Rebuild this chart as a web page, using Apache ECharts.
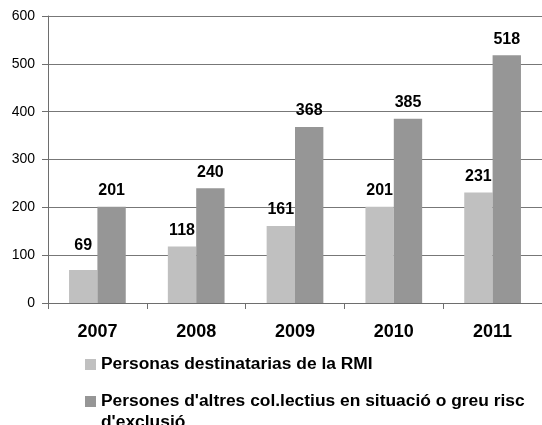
<!DOCTYPE html>
<html>
<head>
<meta charset="utf-8">
<script src="https://cdn.jsdelivr.net/npm/echarts@6/dist/echarts.min.js"></script>
<style>
html,body{margin:0;padding:0;background:#fff;}
#chart{width:542px;height:425px;}
</style>
</head>
<body>
<div id="chart"></div>
<script>
const categories = ['2007', '2008', '2009', '2010', '2011'];
const seriesNames = ['Personas destinatarias de la RMI', "Persones d'altres col.lectius en situació o greu risc d'exclusió"];
const rmiValues = [69, 118, 161, 201, 231];
const altresValues = [201, 240, 368, 385, 518];
const yMin = 0;
const yMax = 600;
const yStep = 100;

const FONT = 'Liberation Sans, Arial, sans-serif';
const chart = echarts.init(document.getElementById('chart'), null, {renderer: 'canvas'});

const labelBase = {show: true, position: 'top', distance: 8, fontFamily: FONT, fontSize: 16, fontWeight: 'bold', color: '#000'};

const rmiData = rmiValues.map((v, i) => i === 0 ? {value: v, label: {distance: 16}} : v);

const option = {
  backgroundColor: '#fff',
  animation: false,
  grid: {left: 48, top: 16, width: 498, height: 287, containLabel: false},
  xAxis: {
    type: 'category',
    data: categories,
    axisLine: {lineStyle: {color: '#6e6e6e', width: 1}},
    axisTick: {show: true, length: 6, inside: false, alignWithLabel: false, lineStyle: {color: '#6e6e6e'}},
    axisLabel: {margin: 20, fontFamily: FONT, fontSize: 18, fontWeight: 'bold', color: '#000'},
    splitLine: {show: false}
  },
  yAxis: {
    type: 'value',
    min: yMin, max: yMax, interval: yStep,
    axisLine: {show: true, lineStyle: {color: '#6e6e6e', width: 1}},
    axisTick: {show: true, length: 6, lineStyle: {color: '#6e6e6e'}},
    axisLabel: {margin: 13, fontFamily: FONT, fontSize: 14, color: '#000'},
    splitLine: {show: true, lineStyle: {color: '#777', width: 1}}
  },
  legend: [
    {
      data: [seriesNames[0]],
      orient: 'vertical', left: 85, top: 354, padding: 0,
      itemWidth: 11, itemHeight: 11, icon: 'rect', selectedMode: false,
      textStyle: {fontFamily: FONT, fontSize: 17.4, fontWeight: 'bold', color: '#000', lineHeight: 21}
    },
    {
      data: [seriesNames[1]],
      orient: 'vertical', left: 85, top: 370, padding: 0,
      itemWidth: 11, itemHeight: 11, icon: 'rect', selectedMode: false,
      formatter: function (name) { return '\n' + name; },
      textStyle: {fontFamily: FONT, fontSize: 17.4, fontWeight: 'bold', color: '#000', lineHeight: 21,
                  width: 436, overflow: 'break'}
    }
  ],
  series: [
    {
      name: seriesNames[0], type: 'bar', data: rmiData,
      barWidth: '28.7%', barGap: '0%',
      itemStyle: {color: '#c0c0c0'},
      label: labelBase
    },
    {
      name: seriesNames[1], type: 'bar', data: altresValues,
      barWidth: '28.7%', barGap: '0%',
      itemStyle: {color: '#969696'},
      label: labelBase
    }
  ]
};
chart.setOption(option);
</script>
</body>
</html>
